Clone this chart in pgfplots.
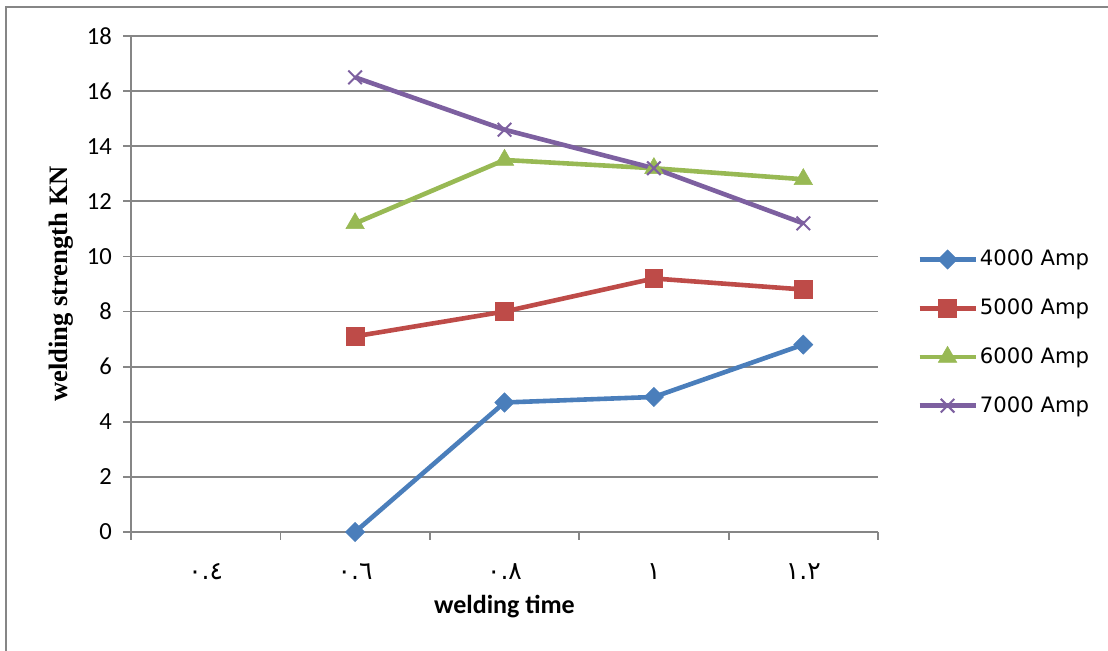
\documentclass[border=0pt]{standalone}
\usepackage{fontspec}
\usepackage{pgfplots}
\pgfplotsset{compat=1.18}
\setmainfont{Carlito}
\newfontfamily\legfont{DejaVu Sans}
\newfontfamily\labfont{Liberation Serif}
\newfontfamily\arabicfont[Script=Arabic]{DejaVu Sans}

\definecolor{sBlue}{HTML}{4A7EBB}
\definecolor{sRed}{HTML}{BE4B48}
\definecolor{sGreen}{HTML}{98B954}
\definecolor{sPurple}{HTML}{7D60A0}
\definecolor{gridgray}{RGB}{134,134,134}

\begin{document}
\begin{tikzpicture}
\useasboundingbox (0,0) rectangle (554pt,325.5pt);
\begin{scope}
  \clip (0,0) rectangle (554pt,325.5pt);
  \draw[gridgray, line width=0.9pt] (3pt,-10pt) -- (3pt,322pt) -- (570pt,322pt);
\end{scope}
\begin{axis}[
  at={(65.5pt,59.5pt)}, anchor=south west,
  scale only axis,
  width=373.5pt, height=248pt,
  xmin=0, xmax=5, ymin=0, ymax=18,
  clip=false,
  axis lines*=left,
  axis line style={gridgray, line width=0.9pt},
  xtick={0.5,1.5,2.5,3.5,4.5},
  xticklabels={{\arabicfont ٠.٤},{\arabicfont ٠.٦},{\arabicfont ٠.٨},{\arabicfont ١},{\arabicfont ١.٢}},
  major x tick style={draw=none},
  minor xtick={0,1,2,3,4,5},
  ytick={0,2,...,18},
  ymajorgrids,
  grid style={gridgray, line width=0.9pt},
  tick style={gridgray, line width=0.9pt},
  tick align=outside,
  major tick length=4pt, minor tick length=4pt,
  /pgf/number format/assume math mode=true,
  yticklabel style={font=\fontsize{12.3}{14}\selectfont, xshift=-2pt},
  xticklabel style={font=\fontsize{12.5}{14}\selectfont, anchor=center, yshift=-16pt},
  xlabel={\bfseries welding time},
  xlabel style={font=\fontsize{13}{15}\selectfont, at={(axis description cs:0.5,-0.151)}, anchor=center},
  ylabel={\labfont\bfseries welding strength KN},
  ylabel style={font=\fontsize{13.3}{15}\selectfont, at={(axis description cs:-0.094,0.5)}, anchor=center},
  legend style={at={(axis description cs:1.052,0.402)}, anchor=west, draw=none,
    inner sep=0pt, row sep=13pt,
    font=\legfont\fontsize{10.6}{12}\selectfont,
    nodes={inner sep=1pt}},
  legend cell align=left,
  legend image code/.code={
    \draw[mark repeat=2, mark phase=2] plot coordinates {(0pt,0pt) (14pt,0pt) (28pt,0pt)};
  },
  every axis plot/.append style={line width=2.3pt},
]
\addplot[sBlue, mark=square*, mark size=3.4pt, mark options={rotate=45, line width=0.3pt}]
  coordinates {(1.5,0) (2.5,4.7) (3.5,4.9) (4.5,6.8)};
\addlegendentry{4000 Amp}
\addplot[sRed, mark=square*, mark size=4.4pt, mark options={line width=0.3pt}]
  coordinates {(1.5,7.1) (2.5,8.0) (3.5,9.2) (4.5,8.8)};
\addlegendentry{5000 Amp}
\addplot[sGreen, mark=triangle*, mark size=5.3pt, mark options={line width=0.3pt}]
  coordinates {(1.5,11.2) (2.5,13.5) (3.5,13.2) (4.5,12.8)};
\addlegendentry{6000 Amp}
\addplot[sPurple, mark=x, mark size=4.8pt, mark options={line width=1pt}]
  coordinates {(1.5,16.5) (2.5,14.6) (3.5,13.2) (4.5,11.2)};
\addlegendentry{7000 Amp}
\end{axis}
\end{tikzpicture}
\end{document}
